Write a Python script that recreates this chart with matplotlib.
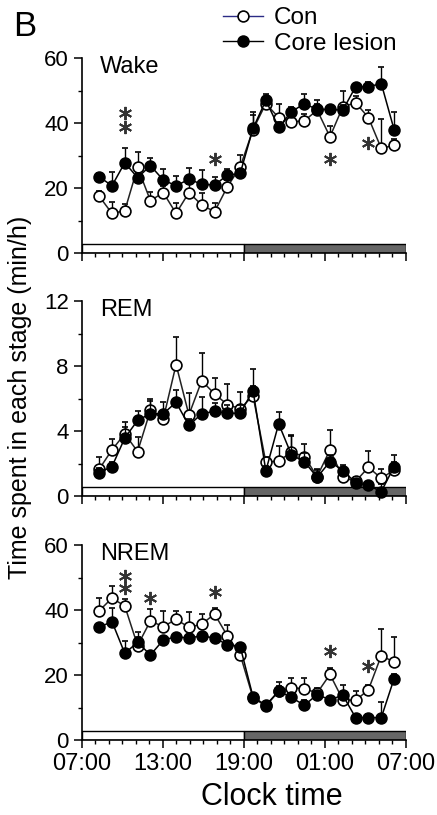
import numpy as np
import matplotlib
matplotlib.use("Agg")
import matplotlib.pyplot as plt
from matplotlib.lines import Line2D
from matplotlib.patches import Rectangle
import matplotlib.transforms as mtransforms

plt.rcParams['font.family'] = ['Liberation Sans', 'DejaVu Sans']

# hourly bins, 24 of them (08:00 ... 06:00)
n_bins = 24

wake_con = [17.5, 12.2, 13.0, 26.4, 16.1, 18.6, 12.2, 18.6, 14.8, 12.7, 20.4, 26.5,
            38.0, 46.0, 41.7, 40.4, 40.7, 44.0, 35.8, 45.0, 46.3, 41.7, 32.2, 33.2]
wake_con_err = [1.5, 3.4, 2.0, 4.6, 2.8, 2.0, 3.1, 2.5, 3.6, 2.6, 2.0, 3.7,
                4.5, 2.0, 4.3, 1.5, 2.0, 2.0, 3.2, 5.0, 2.0, 2.3, 9.0, 2.0]
wake_core = [23.5, 20.7, 27.8, 23.2, 26.9, 22.5, 20.7, 22.7, 21.2, 20.9, 24.0, 24.5,
             38.4, 47.0, 38.7, 43.5, 46.0, 44.2, 44.2, 44.0, 51.2, 51.2, 52.2, 38.0]
wake_core_err = [1.0, 4.3, 4.4, 1.5, 2.5, 3.5, 3.1, 3.5, 4.3, 2.6, 2.0, 1.5,
                 5.0, 2.0, 1.5, 1.5, 3.0, 2.8, 1.0, 1.5, 1.0, 1.5, 5.0, 5.5]

rem_con = [1.65, 2.84, 3.83, 2.74, 5.28, 4.74, 8.1, 5.0, 7.1, 6.29, 5.63, 5.38,
           6.18, 2.08, 2.16, 2.7, 2.43, 1.2, 2.84, 1.15, 0.9, 1.77, 1.09, 1.6]
rem_con_err = [0.75, 0.7, 0.4, 0.9, 0.6, 0.4, 1.7, 1.35, 1.7, 1.0, 1.3, 1.0,
               0.6, 0.3, 0.9, 1.0, 0.8, 0.4, 1.2, 0.4, 0.3, 1.0, 0.6, 0.5]
rem_core = [1.44, 1.81, 3.57, 4.66, 5.07, 5.07, 5.77, 4.35, 5.07, 5.22, 5.1, 5.1,
            6.5, 1.55, 4.45, 2.53, 2.12, 1.15, 2.12, 1.57, 0.82, 0.66, 0.27, 1.81]
rem_core_err = [0.3, 0.3, 1.0, 0.6, 0.9, 0.7, 0.75, 0.4, 1.0, 0.5, 0.5, 0.5,
                1.3, 0.3, 0.75, 1.2, 0.5, 0.5, 0.4, 0.35, 0.2, 0.2, 0.5, 0.7]

nrem_con = [39.8, 43.7, 41.3, 29.1, 36.7, 34.9, 37.2, 34.7, 35.7, 38.8, 32.1, 26.3,
            13.0, 10.5, 15.0, 16.1, 15.8, 14.5, 20.2, 12.4, 12.2, 15.5, 26.0, 24.0]
nrem_con_err = [4.1, 3.7, 2.0, 2.5, 3.6, 4.9, 2.6, 4.6, 3.1, 2.0, 3.3, 1.5,
                1.0, 1.0, 1.5, 3.1, 3.2, 1.5, 2.0, 1.5, 2.9, 1.5, 8.2, 7.8]
nrem_core = [34.7, 36.5, 26.7, 30.1, 26.2, 30.8, 31.8, 31.4, 32.1, 31.4, 29.4, 28.8,
             13.3, 10.7, 15.1, 13.1, 10.7, 14.0, 12.4, 13.8, 6.9, 6.9, 6.9, 18.9]
nrem_core_err = [1.0, 4.1, 3.9, 3.1, 1.0, 1.0, 1.0, 1.0, 1.0, 1.0, 1.0, 1.0,
                 1.0, 0.8, 2.8, 1.5, 1.5, 1.0, 1.0, 3.2, 1.0, 1.0, 4.8, 1.5]

# significance asterisks: (bin index, height)
wake_sig = [(2, 43.0), (2, 38.8), (9, 29.0), (18, 29.0), (21, 34.0)]
nrem_sig = [(2, 50.5), (2, 46.8), (4, 43.7), (9, 45.7), (18, 27.3), (21, 22.7)]

tick_labels = ['07:00', '13:00', '19:00', '01:00', '07:00']

x = 1.27 + 0.95 * np.arange(n_bins)   # hours after 07:00

fig = plt.figure(figsize=(4.37, 8.15), dpi=100)
left, width, h = 0.1876, 0.7414, 0.239
bottoms = [0.6896, 0.3914, 0.092]

panels = [
    ('Wake', wake_con, wake_con_err, wake_core, wake_core_err, 60, 20, 10, wake_sig),
    ('REM', rem_con, rem_con_err, rem_core, rem_core_err, 12, 4, 2, []),
    ('NREM', nrem_con, nrem_con_err, nrem_core, nrem_core_err, 60, 20, 10, nrem_sig),
]

for k, (name, con, con_e, core, core_e, ymax, major, minor, sig) in enumerate(panels):
    ax = fig.add_axes([left, bottoms[k], width, h])
    ax.set_xlim(0, 24)
    ax.set_ylim(0, ymax)
    for s in ['top', 'right']:
        ax.spines[s].set_visible(False)
    for s in ['left', 'bottom']:
        ax.spines[s].set_linewidth(1.2)

    # light/dark bar
    tr = mtransforms.blended_transform_factory(ax.transData, ax.transAxes)
    ax.add_patch(Rectangle((0, 0), 12, 0.044, transform=tr, facecolor='white',
                           edgecolor='black', lw=1.0, zorder=1))
    ax.add_patch(Rectangle((12, 0), 12, 0.044, transform=tr, facecolor='#666666',
                           edgecolor='black', lw=1.0, zorder=1))

    ax.errorbar(x, con, yerr=[np.zeros(n_bins), con_e], fmt='none', ecolor='black',
                elinewidth=1.0, capsize=2.2, capthick=1.2, zorder=2, clip_on=False)
    ax.plot(x, con, '-', color='#222222', lw=1.1, marker='o', ms=7.8, mfc='white',
            mec='black', mew=1.2, zorder=3, clip_on=False)
    ax.errorbar(x, core, yerr=[np.zeros(n_bins), core_e], fmt='none', ecolor='black',
                elinewidth=1.0, capsize=2.2, capthick=1.2, zorder=4, clip_on=False)
    ax.plot(x, core, '-', color='black', lw=1.1, marker='o', ms=7.8, mfc='black',
            mec='black', mew=1.2, zorder=5, clip_on=False)

    if sig:
        sx = [x[i] for i, _ in sig]
        sy = [v for _, v in sig]
        ax.plot(sx, sy, ls='none', marker=(6, 2, 0), ms=9.5, mew=1.4, color='#333333',
                zorder=6)

    ax.set_yticks(np.arange(0, ymax + 0.1, major))
    ax.set_yticks(np.arange(0, ymax + 0.1, minor), minor=True)
    ax.set_xticks([0, 6, 12, 18, 24])
    ax.set_xticks(np.arange(0, 25, 1), minor=True)
    ax.tick_params(axis='both', which='major', length=5.5, width=1.1, labelsize=16, pad=4)
    ax.tick_params(axis='both', which='minor', length=3, width=1.0)
    if k == 2:
        ax.set_xticklabels(tick_labels, fontsize=17)
    else:
        ax.set_xticklabels([])

    ax.text(0.056, 0.955, name, transform=ax.transAxes, fontsize=17, va='center',
            ha='left')

fig.text(20 / 437, 0.512, 'Time spent in each stage (min/h)', rotation=90,
         fontsize=18, va='center', ha='center')
fig.text(272 / 437, 0.022, 'Clock time', fontsize=22, va='center', ha='center')
fig.text(13 / 437, 1 - 26 / 815, 'B', fontsize=25, va='center', ha='left')

handles = [
    Line2D([], [], color='#2b2b85', lw=1.0, marker='o', ms=7.8, mfc='white',
           mec='black', mew=1.2),
    Line2D([], [], color='black', lw=1.0, marker='o', ms=7.8, mfc='black',
           mec='black', mew=1.2),
]
fig.legend(handles, ['Con', 'Core lesion'], loc='upper left',
           bbox_to_anchor=(223 / 437, 1 - 7 / 815), frameon=False, fontsize=17.5,
           handlelength=1.65, handletextpad=0.45, labelspacing=0.15,
           borderpad=0, borderaxespad=0)

fig.savefig('out.png', dpi=100)
